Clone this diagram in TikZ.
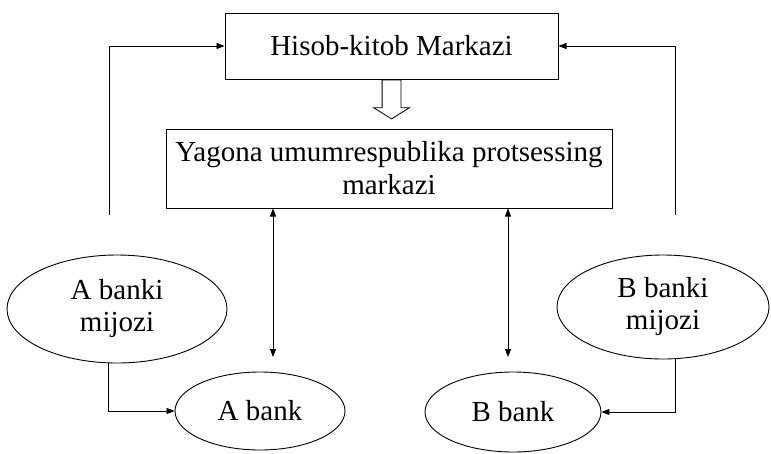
\documentclass[tikz,border=0pt]{standalone}
\usepackage{fontspec}
\setmainfont{Liberation Serif}
\usetikzlibrary{shapes.geometric,shapes.arrows,arrows.meta}
\tikzset{ b/.style = { rectangle % box
        , draw
        , line width = 1pt
        , inner sep = 0pt
        , align = center
        , font = \fontsize{29}{33}\selectfont
        }
        , e/.style = { ellipse % ellipse
        , draw
        , line width = 0.9pt
        , inner sep = 0pt
        , align = center
        , font = \fontsize{29}{32}\selectfont
        }
        }

\begin{document}
\begin{tikzpicture}[x=1pt, y=-1pt, line width=0.8pt,
        edge_style/.style={draw=black, -{Triangle[length=8pt,width=6pt]}},
        both_edge_style/.style={draw=black, {Triangle[length=8pt,width=6pt]}-{Triangle[length=8pt,width=6pt]}},
        hollow_style/.style={single arrow, draw, line width=0.8pt, shape border rotate=270, inner sep=9pt,
                minimum height=39pt, single arrow tip angle=116, single arrow head extend=8.5pt}]
        \useasboundingbox (0,0) rectangle (771,453);

        \node [b, minimum width=333pt, minimum height=66pt](top) at (391.5,46) {Hisob-kitob Markazi};
        \node [b, minimum width=446pt, minimum height=79pt](mid) at (389,168.5) {Yagona umumrespublika protsessing\\markazi};
        \node [hollow_style, anchor=tail](down) at (top.south) {};
        \node [e, minimum width=220pt, minimum height=108pt](amij) at (117,309) {A banki\\mijozi};
        \node [e, minimum width=212pt, minimum height=104pt](bmij) at (663,307) {B banki\\mijozi};
        \node [e, minimum width=170pt, minimum height=78pt](abank) at (260,411) {A bank};
        \node [e, minimum width=176pt, minimum height=80pt](bbank) at (513,412) {B bank};

        \coordinate (l1) at (109,215);
        \coordinate (r1) at (675,215);
        \coordinate (a1) at (273,357);
        \coordinate (b1) at (508,357);

        \draw [edge_style] (l1) |- (top.west);
        \draw [edge_style] (r1) |- (top.east);
        \draw [both_edge_style] (a1 |- mid.south) -- (a1);
        \draw [both_edge_style] (b1 |- mid.south) -- (b1);
        \draw [edge_style] ([xshift=-9pt]amij.south) |- (abank.west);
        \draw [edge_style] ([xshift=12pt]bmij.south) |- (bbank.east);
\end{tikzpicture}
\end{document}
